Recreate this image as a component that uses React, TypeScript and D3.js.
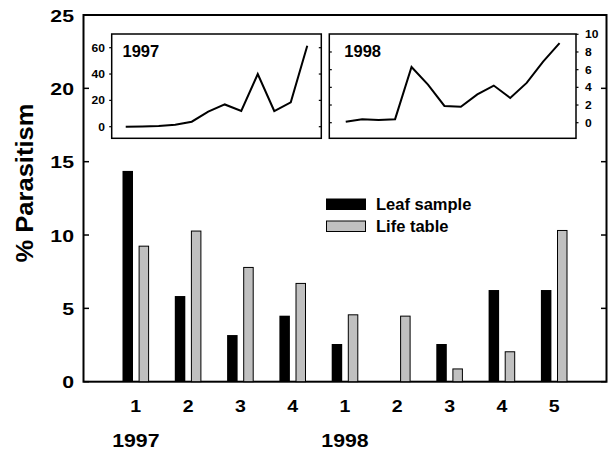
import React from "react";
import * as d3 from "d3";

const categories = ["1", "2", "3", "4", "1", "2", "3", "4", "5"];
const leafSample = [14.37, 5.84, 3.18, 4.5, 2.57, 0, 2.57, 6.25, 6.25];
const lifeTable = [9.24, 10.27, 7.79, 6.7, 4.56, 4.47, 0.87, 2.04, 10.31];
const yearLabels = [
  { label: "1997", index: 0 },
  { label: "1998", index: 4 },
];
const yTicks = [0, 5, 10, 15, 20, 25];

const inset1997 = [0, 0.2, 0.5, 1.5, 3.8, 11.4, 16.9, 11.9, 40, 11.9, 18.5, 61.5];
const inset1997Ticks = [0, 20, 40, 60];
const inset1998 = [0.1, 0.4, 0.3, 0.4, 6.3, 4.3, 1.9, 1.8, 3.2, 4.2, 2.8, 4.5, 6.9, 9.0];
const inset1998Ticks = [0, 2, 4, 6, 8, 10];

const FONT = "'Liberation Sans', Arial, Helvetica, sans-serif";

export default function App() {
  const W = 608;
  const H = 455;
  const left = 83.5;
  const right = 606.5;
  const top = 15;
  const bottom = 381.7;

  const x = d3.scaleLinear().domain([0, 10]).range([left, right]);
  const y = d3.scaleLinear().domain([0, 25]).range([bottom, top]);

  const i1 = { l: 111.7, r: 321.3, t: 34, b: 138.3 };
  const x1 = d3.scaleLinear().domain([-0.85, 11.85]).range([i1.l, i1.r]);
  const y1 = d3.scaleLinear().domain([0, 60]).range([126.7, 47.7]);
  const line1 = d3
    .line<number>()
    .x((_, i) => x1(i))
    .y((d) => y1(d));

  const i2 = { l: 329.3, r: 576, t: 34, b: 138.3 };
  const x2 = d3.scaleLinear().domain([-1, 14]).range([i2.l, i2.r]);
  const y2 = d3.scaleLinear().domain([0, 10]).range([122.7, 34.3]);
  const line2 = d3
    .line<number>()
    .x((_, i) => x2(i))
    .y((d) => y2(d));

  const barW = 10.5;
  const gap = 2.8;

  return (
    <svg
      width={W}
      height={H}
      style={{ position: "absolute", left: 0, top: 0 }}
      fontFamily={FONT}
      fontWeight="bold"
    >
      <rect x={0} y={0} width={W} height={H} fill="#fff" />
      <rect
        x={left}
        y={top}
        width={right - left}
        height={bottom - top}
        fill="none"
        stroke="#000"
        strokeWidth={2}
      />
      {yTicks.map((t) => (
        <g key={"yt" + t}>
          <line x1={left} x2={left + 5.5} y1={y(t)} y2={y(t)} stroke="#000" strokeWidth={1.5} />
          <line x1={right} x2={right - 5.5} y1={y(t)} y2={y(t)} stroke="#000" strokeWidth={1.5} />
          <text
            transform={`translate(74,${y(t) + 6.5}) scale(1.25,1)`}
            textAnchor="end"
            fontSize={17}
          >
            {t}
          </text>
        </g>
      ))}
      {categories.map((c, i) => {
        const cx = x(i + 1);
        return (
          <g key={"b" + i}>
            {leafSample[i] > 0 && (
              <rect
                x={cx - gap - barW}
                y={y(leafSample[i])}
                width={barW}
                height={bottom - y(leafSample[i])}
                fill="#000"
              />
            )}
            <rect
              x={cx + gap + 0.5}
              y={y(lifeTable[i])}
              width={barW - 1}
              height={bottom - y(lifeTable[i])}
              fill="#c0c0c0"
              stroke="#000"
              strokeWidth={1}
            />
            <text
              transform={`translate(${cx},${411.5}) scale(1.15,1)`}
              textAnchor="middle"
              fontSize={17}
            >
              {c}
            </text>
          </g>
        );
      })}
      {yearLabels.map((yl) => (
        <text
          key={yl.label}
          transform={`translate(${x(yl.index + 1)},${446.5}) scale(1.15,1)`}
          textAnchor="middle"
          fontSize={18.5}
        >
          {yl.label}
        </text>
      ))}
      <text
        transform={`translate(33,${183}) rotate(-90) scale(1.16,1.05)`}
        textAnchor="middle"
        fontSize={22}
      >
        % Parasitism
      </text>
      <rect x={326} y={198.5} width={40} height={11.5} fill="#000" />
      <rect x={326.5} y={221} width={39} height={10.5} fill="#c0c0c0" stroke="#000" strokeWidth={1} />
      <text x={376} y={210} fontSize={16.5}>
        Leaf sample
      </text>
      <text x={376} y={232} fontSize={16.5}>
        Life table
      </text>

      <rect
        x={i1.l}
        y={i1.t}
        width={i1.r - i1.l}
        height={i1.b - i1.t}
        fill="#fff"
        stroke="#000"
        strokeWidth={1.5}
      />
      {inset1997Ticks.map((t) => (
        <g key={"i1" + t}>
          <line x1={i1.l} x2={i1.l - 2.5} y1={y1(t)} y2={y1(t)} stroke="#000" strokeWidth={1.2} />
          <line x1={i1.r} x2={i1.r - 2.5} y1={y1(t)} y2={y1(t)} stroke="#000" strokeWidth={1.2} />
          <text
            transform={`translate(105,${y1(t) + 4}) scale(1.15,1)`}
            textAnchor="end"
            fontSize={10.5}
          >
            {t}
          </text>
        </g>
      ))}
      <path d={line1(inset1997) || ""} fill="none" stroke="#000" strokeWidth={2} strokeLinejoin="miter" />
      <text x={122.5} y={56.5} fontSize={16.5}>
        1997
      </text>

      <rect
        x={i2.l}
        y={i2.t}
        width={i2.r - i2.l}
        height={i2.b - i2.t}
        fill="#fff"
        stroke="#000"
        strokeWidth={1.5}
      />
      {inset1998Ticks.map((t) => (
        <g key={"i2" + t}>
          {t < 10 && (
            <line x1={i2.l} x2={i2.l + 2.5} y1={y2(t)} y2={y2(t)} stroke="#000" strokeWidth={1.2} />
          )}
          <line x1={i2.r} x2={i2.r + 2.5} y1={y2(t)} y2={y2(t)} stroke="#000" strokeWidth={1.2} />
          <text
            transform={`translate(585,${y2(t) + 4}) scale(1.15,1)`}
            textAnchor="start"
            fontSize={10.5}
          >
            {t}
          </text>
        </g>
      ))}
      <path d={line2(inset1998) || ""} fill="none" stroke="#000" strokeWidth={2} strokeLinejoin="miter" />
      <text x={344.3} y={56.5} fontSize={16.5}>
        1998
      </text>
    </svg>
  );
}
